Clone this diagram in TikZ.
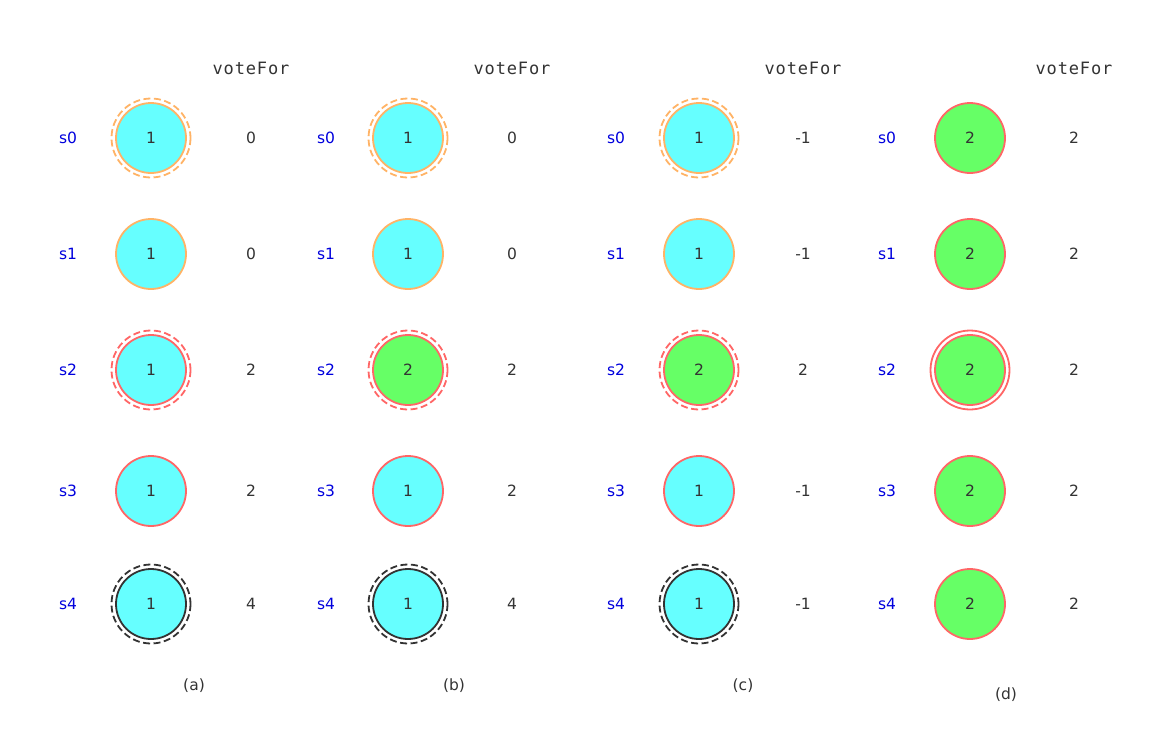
\documentclass[tikz,border=0pt]{standalone}
\usepackage{fontspec}
\setmainfont{DejaVu Sans}
\newfontfamily\votefont[LetterSpace=5]{DejaVu Sans Mono}
\definecolor{cyanfill}{HTML}{66FFFF}
\definecolor{greenfill}{HTML}{66FF66}
\definecolor{orangeline}{HTML}{FFB366}
\definecolor{redline}{HTML}{FF6666}
\definecolor{darkline}{HTML}{333333}
\definecolor{labelblue}{HTML}{0000DD}
\tikzset{
  txt/.style={text=darkline, font=\fontsize{15.5}{18}\selectfont},
  server/.style={txt, circle, minimum size=70pt, inner sep=0pt, line width=1.8pt},
  cyanorange/.style={server, fill=cyanfill, draw=orangeline},
  cyanred/.style={server, fill=cyanfill, draw=redline},
  cyanblack/.style={server, fill=cyanfill, draw=darkline},
  greenred/.style={server, fill=greenfill, draw=redline},
  dashring/.style={line width=1.8pt, dash pattern=on 7pt off 3.5pt},
  slabel/.style={text=labelblue, font=\fontsize{15.5}{18}\selectfont},
  votehead/.style={text=darkline, font=\votefont\fontsize{17}{20}\selectfont}
}
\begin{document}
\begin{tikzpicture}[x=1pt, y=-1pt]
\useasboundingbox (0,0) rectangle (1151,745);
% column headings
\node[votehead] (va) at (251,68) {voteFor};
\node[votehead] (vb) at (512,68) {voteFor};
\node[votehead] (vc) at (803,68) {voteFor};
\node[votehead] (vd) at (1074,68) {voteFor};
% server names
\foreach \sx/\p in {68/a, 326/b, 616/c, 887/d}{
  \foreach \y [count=\i from 0] in {138, 254, 370, 491, 604}
    \node[slabel] (s\p\i) at (\sx,\y) {s\i};
}
% (a)
\node[cyanorange] (a0) at (151,138) {1};
\node[cyanorange] (a1) at (151,254) {1};
\node[cyanred] (a2) at (151,370) {1};
\node[cyanred] (a3) at (151,491) {1};
\node[cyanblack] (a4) at (151,604) {1};
% (b)
\node[cyanorange] (b0) at (408,138) {1};
\node[cyanorange] (b1) at (408,254) {1};
\node[greenred] (b2) at (408,370) {2};
\node[cyanred] (b3) at (408,491) {1};
\node[cyanblack] (b4) at (408,604) {1};
% (c)
\node[cyanorange] (c0) at (699,138) {1};
\node[cyanorange] (c1) at (699,254) {1};
\node[greenred] (c2) at (699,370) {2};
\node[cyanred] (c3) at (699,491) {1};
\node[cyanblack] (c4) at (699,604) {1};
% (d)
\foreach \y [count=\i from 0] in {138, 254, 370, 491, 604}
  \node[greenred] (d\i) at (970,\y) {2};
% rings
\foreach \p in {a, b, c}{
  \draw[dashring, orangeline] (\p0.center) circle[radius=39.5];
  \draw[dashring, redline] (\p2.center) circle[radius=39.5];
  \draw[dashring, darkline] (\p4.center) circle[radius=39.5];
}
\draw[line width=1.8pt, redline] (d2.center) circle[radius=39.5];
% voteFor values
\foreach \v/\y [count=\i from 0] in {0/138, 0/254, 2/370, 2/491, 4/604}
  \node[txt] (ua\i) at (251,\y) {\v};
\foreach \v/\y [count=\i from 0] in {0/138, 0/254, 2/370, 2/491, 4/604}
  \node[txt] (ub\i) at (512,\y) {\v};
\foreach \v/\y [count=\i from 0] in {-1/138, -1/254, 2/370, -1/491, -1/604}
  \node[txt] (uc\i) at (803,\y) {\v};
\foreach \y [count=\i from 0] in {138, 254, 370, 491, 604}
  \node[txt] (ud\i) at (1074,\y) {2};
% captions
\node[txt] (capa) at (194,686) {(a)};
\node[txt] (capb) at (454,686) {(b)};
\node[txt] (capc) at (743,686) {(c)};
\node[txt] (capd) at (1006,695) {(d)};
\end{tikzpicture}
\end{document}
